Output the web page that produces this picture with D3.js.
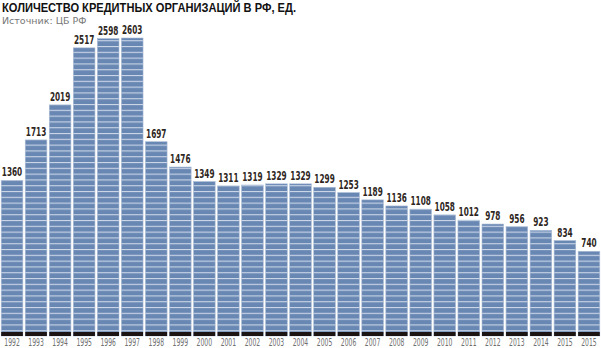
<!DOCTYPE html>
<html>
<head>
<meta charset="utf-8">
<script src="https://cdn.jsdelivr.net/npm/d3@7"></script>
<style>
  body { margin: 0; background: #fff; }
  svg { display: block; }
</style>
</head>
<body>
<svg id="chart" width="601" height="348"></svg>
<script>
// credit organisations in RF, per year
const years = ["1992", "1993", "1994", "1995", "1996", "1997", "1998", "1999", "2000", "2001",
  "2002", "2003", "2004", "2005", "2006", "2007", "2008", "2009", "2010", "2011",
  "2012", "2013", "2014", "2015", "2015"];
const counts = [1360, 1713, 2019, 2517, 2598, 2603, 1697, 1476, 1349, 1311,
  1319, 1329, 1329, 1299, 1253, 1189, 1136, 1108, 1058, 1012,
  978, 956, 923, 834, 740];
const title = "КОЛИЧЕСТВО КРЕДИТНЫХ ОРГАНИЗАЦИЙ В РФ, ЕД.";
const source = "Источник: ЦБ РФ";

const svg = d3.select("#chart");
const W = 601, baseY = 336, topY = 38;

const x = d3.scaleBand()
  .domain(d3.range(counts.length))
  .range([0, W])
  .paddingInner(0.1)
  .paddingOuter(0.05);

const y = d3.scaleLinear()
  .domain([0, d3.max(counts)])
  .range([baseY, topY]);

// striped fill
const defs = svg.append("defs");
const pat = defs.append("pattern")
  .attr("id", "stripes")
  .attr("patternUnits", "userSpaceOnUse")
  .attr("width", 10).attr("height", 5.8)
  .attr("y", baseY);
pat.append("rect").attr("width", 10).attr("height", 5.8).attr("fill", "#6987b3");
pat.append("rect").attr("width", 10).attr("height", 1.1).attr("fill", "#cbd6e7");

const bars = svg.append("g");
bars.selectAll("rect.bar")
  .data(counts)
  .join("rect")
  .attr("class", "bar")
  .attr("x", (d, i) => x(i))
  .attr("y", d => y(d))
  .attr("width", x.bandwidth())
  .attr("height", d => baseY - y(d))
  .attr("fill", "url(#stripes)")
  .attr("stroke", "#a9bbd4")
  .attr("stroke-width", 0.6);

// dark foot under each bar
bars.selectAll("rect.foot")
  .data(counts)
  .join("rect")
  .attr("class", "foot")
  .attr("x", (d, i) => x(i))
  .attr("y", baseY - 4)
  .attr("width", x.bandwidth())
  .attr("height", 4)
  .attr("fill", "#1c1412");

// value labels (condensed)
svg.append("g").selectAll("text")
  .data(counts)
  .join("text")
  .attr("x", (d, i) => x(i) + x.bandwidth() / 2)
  .attr("y", d => y(d) - 4)
  .attr("text-anchor", "middle")
  .attr("font-family", "'DejaVu Sans Condensed', 'DejaVu Sans', sans-serif")
  .attr("font-weight", "bold")
  .attr("font-size", 13)
  .attr("textLength", d => String(d).length * 5.1)
  .attr("lengthAdjust", "spacingAndGlyphs")
  .attr("fill", "#2e2622")
  .text(d => d);

// year labels
svg.append("g").selectAll("text")
  .data(years)
  .join("text")
  .attr("x", (d, i) => x(i) + x.bandwidth() / 2)
  .attr("y", 346)
  .attr("text-anchor", "middle")
  .attr("font-family", "'DejaVu Sans Condensed', 'DejaVu Sans', sans-serif")
  .attr("font-size", 11)
  .attr("textLength", 15.5)
  .attr("lengthAdjust", "spacingAndGlyphs")
  .attr("fill", "#6f6f6f")
  .text(d => d);

// title + source
svg.append("text")
  .attr("x", 2).attr("y", 12)
  .attr("font-family", "'Liberation Sans', Arial, sans-serif")
  .attr("font-weight", "bold")
  .attr("font-size", 12.5)
  .attr("textLength", 294)
  .attr("lengthAdjust", "spacingAndGlyphs")
  .attr("fill", "#111")
  .text(title);

svg.append("text")
  .attr("x", 2).attr("y", 24)
  .attr("font-family", "'DejaVu Sans', sans-serif")
  .attr("font-size", 9.5)
  .attr("fill", "#777")
  .text(source);
</script>
</body>
</html>
